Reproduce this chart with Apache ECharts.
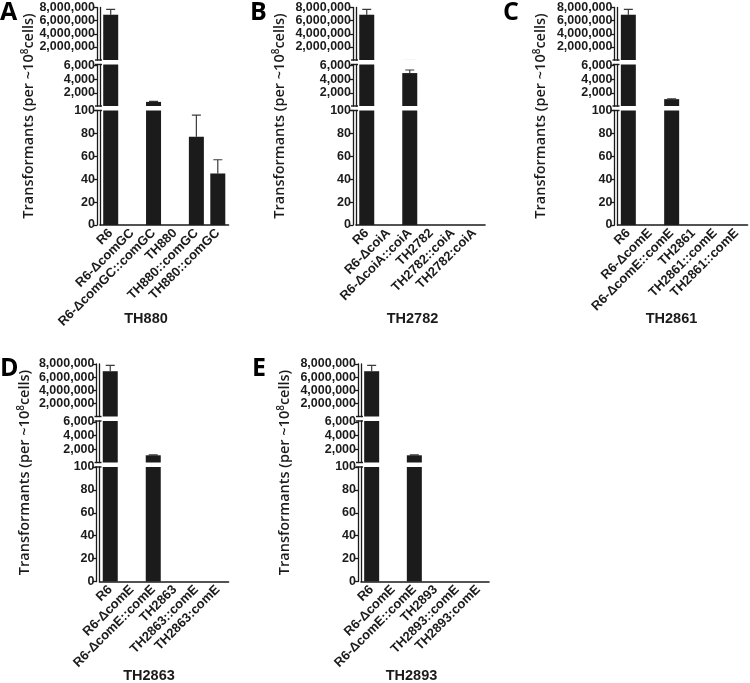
<!DOCTYPE html>
<html>
<head>
<meta charset="utf-8">
<script src="https://cdn.jsdelivr.net/npm/echarts@6/dist/echarts.min.js"></script>
<style>
html,body{margin:0;padding:0;background:#fff;}
#c{width:750px;height:683px;}
</style>
</head>
<body>
<div id="c"></div>
<script>
// ---- data ----
const catsA = ['R6', 'R6-ΔcomGC', 'R6-ΔcomGC::comGC', 'TH880', 'TH880::comGC', 'TH880::comGC'];
const valsA = [6900000, 0, 700, 0, 77, 45];
const errA  = [800000, 0, 80, 0, 19, 12];

const catsB = ['R6', 'R6-ΔcoiA', 'R6-ΔcoiA::coiA', 'TH2782', 'TH2782::coiA', 'TH2782:coiA'];
const valsB = [6900000, 0, 4900, 0, 0, 0];
const errB  = [800000, 0, 450, 0, 0, 0];

const catsC = ['R6', 'R6-ΔcomE', 'R6-ΔcomE::comE', 'TH2861', 'TH2861::comE', 'TH2861::comE'];
const valsC = [6900000, 0, 1100, 0, 0, 0];
const errC  = [800000, 0, 60, 0, 0, 0];

const catsD = ['R6', 'R6-ΔcomE', 'R6-ΔcomE::comE', 'TH2863', 'TH2863::comE', 'TH2863:comE'];
const valsD = [6900000, 0, 1150, 0, 0, 0];
const errD  = [900000, 0, 50, 0, 0, 0];

const catsE = ['R6', 'R6-ΔcomE', 'R6-ΔcomE::comE', 'TH2893', 'TH2893::comE', 'TH2893:comE'];
const valsE = [6900000, 0, 1150, 0, 0, 0];
const errE  = [900000, 0, 50, 0, 0, 0];

const topTicks = [2000000, 4000000, 6000000, 8000000];
const midTicks = [2000, 4000, 6000];
const lowTicks = [0, 20, 40, 60, 80, 100];

const panelLetters = ['A', 'B', 'C', 'D', 'E'];
const panelTitles = ['TH880', 'TH2782', 'TH2861', 'TH2863', 'TH2893'];
const yTitleMain = 'Transformants (per ~10';
const yTitleSup = '8';
const yTitleEnd = 'cells)';

// ---- layout ----
const panels = [
  {cats: catsA, vals: valsA, errs: errA, left: 100,   width: 128.5, dy: 0,     lx: 0,   tx: 146,   yx: 28.5},
  {cats: catsB, vals: valsB, errs: errB, left: 356,   width: 129,   dy: 0,     lx: 250, tx: 412.5, yx: 280},
  {cats: catsC, vals: valsC, errs: errC, left: 617.5, width: 130,   dy: 0,     lx: 503, tx: 671.5, yx: 541},
  {cats: catsD, vals: valsD, errs: errD, left: 99.5,  width: 129,   dy: 356.5, lx: 0,   tx: 149,   yx: 25},
  {cats: catsE, vals: valsE, errs: errE, left: 361,   width: 128,   dy: 356.5, lx: 252, tx: 411.5, yx: 285}
];
const segs = [
  {min: 0,   max: 8000000, own: [6150, Infinity], top: 7.5,   h: 52.5,  ticks: topTicks},
  {min: 100, max: 6150,    own: [100, 6150],      top: 64.5,  h: 41.5,  ticks: midTicks},
  {min: 0,   max: 100,     own: [-Infinity, 100], top: 110.5, h: 114.5, ticks: lowTicks}
];

const INK = '#1b1b1b';
const FONT = 'Liberation Sans, Arial, sans-serif';
const grids = [], xAxes = [], yAxes = [], series = [], graphics = [];

panels.forEach((p, pi) => {
  segs.forEach((s, si) => {
    const gi = grids.length;
    grids.push({left: p.left, top: s.top + p.dy, width: p.width, height: s.h, containLabel: false});
    const isBottom = si === 2;
    xAxes.push({
      type: 'category', gridIndex: gi, data: p.cats, show: isBottom,
      axisLine: {lineStyle: {color: INK, width: 1.6}},
      axisTick: {alignWithLabel: true, length: 4, lineStyle: {color: INK, width: 1.3}},
      axisLabel: {interval: 0, rotate: 45, margin: 6, color: INK, fontSize: 13, fontWeight: 'bold', fontFamily: FONT}
    });
    const yi = yAxes.length;
    yAxes.push({
      type: 'value', gridIndex: gi, position: 'left', offset: 3, min: s.min, max: s.max,
      axisLine: {show: true, lineStyle: {color: INK, width: 1.3}},
      axisTick: {show: true, length: 4, customValues: s.ticks, lineStyle: {color: INK, width: 1.3}},
      axisLabel: {customValues: s.ticks, margin: 2, color: INK, fontSize: 12.5, fontWeight: 'bold', fontFamily: FONT,
                  formatter: v => Number(v).toLocaleString('en-US')},
      splitLine: {show: false}
    });
    yAxes.push({
      type: 'value', gridIndex: gi, position: 'left', offset: 0, min: s.min, max: s.max,
      axisLine: {show: true, lineStyle: {color: INK, width: 1.3}},
      axisTick: {show: false}, axisLabel: {show: false}, splitLine: {show: false}
    });
    series.push({
      type: 'bar', xAxisIndex: gi, yAxisIndex: yi, data: p.vals, barWidth: 15, clip: true,
      itemStyle: {color: INK}, silent: true
    });
    series.push({
      type: 'custom', xAxisIndex: gi, yAxisIndex: yi, clip: true, silent: true,
      data: p.vals.map((v, i) => [i, v, p.errs[i]]),
      renderItem: (params, api) => {
        const e = api.value(2);
        const v = api.value(1);
        if (!e || v <= s.own[0] || v > s.own[1]) return null;
        const x = api.value(0);
        const p0 = api.coord([x, v]);
        const p1 = api.coord([x, Math.min(v + e, s.max)]);
        const st = {stroke: '#3a3a3a', lineWidth: 1.2};
        return {type: 'group', children: [
          {type: 'line', shape: {x1: p0[0], y1: p0[1], x2: p1[0], y2: p1[1]}, style: st},
          {type: 'line', shape: {x1: p1[0] - 4.5, y1: p1[1], x2: p1[0] + 4.5, y2: p1[1]}, style: st}
        ]};
      }
    });
    // break caps on the double axis line
    const yTop = s.top + p.dy, yBot = s.top + s.h + p.dy;
    const capStyle = {stroke: INK, lineWidth: 1.4};
    if (si > 0) graphics.push({type: 'line', silent: true, shape: {x1: p.left - 5, y1: yTop, x2: p.left + 2, y2: yTop}, style: capStyle});
    if (si < 2) graphics.push({type: 'line', silent: true, shape: {x1: p.left - 5, y1: yBot, x2: p.left + 2, y2: yBot}, style: capStyle});
  });

  // panel letter
  graphics.push({type: 'text', x: p.lx, y: 0 + p.dy, silent: true,
    style: {text: panelLetters[pi], fontSize: 25, fontWeight: 'bold', fontFamily: 'Open Sans, sans-serif', fill: '#000'}});
  // bottom title
  graphics.push({type: 'text', x: p.tx, y: 319 + p.dy, silent: true,
    style: {text: panelTitles[pi], fontSize: 14.5, fontWeight: 'bold', fontFamily: FONT,
            fill: INK, align: 'center', verticalAlign: 'middle'}});
  // y title (rotated)
  graphics.push({type: 'text', x: p.yx, y: 116 + p.dy, rotation: Math.PI / 2, silent: true,
    style: {text: yTitleMain + '{sup|' + yTitleSup + '}' + yTitleEnd, fontSize: 14.5, fontWeight: 600,
            fontFamily: 'Open Sans, sans-serif', fill: INK, align: 'center', verticalAlign: 'middle',
            rich: {sup: {fontSize: 10, fontWeight: 600, fontFamily: 'Open Sans, sans-serif', fill: INK, verticalAlign: 'top', padding: [0, 0, 7, 0]}}}});
});

const chart = echarts.init(document.getElementById('c'), null, {renderer: 'canvas'});
chart.setOption({
  animation: false,
  backgroundColor: '#fff',
  grid: grids, xAxis: xAxes, yAxis: yAxes, series: series, graphic: graphics
});
</script>
</body>
</html>
